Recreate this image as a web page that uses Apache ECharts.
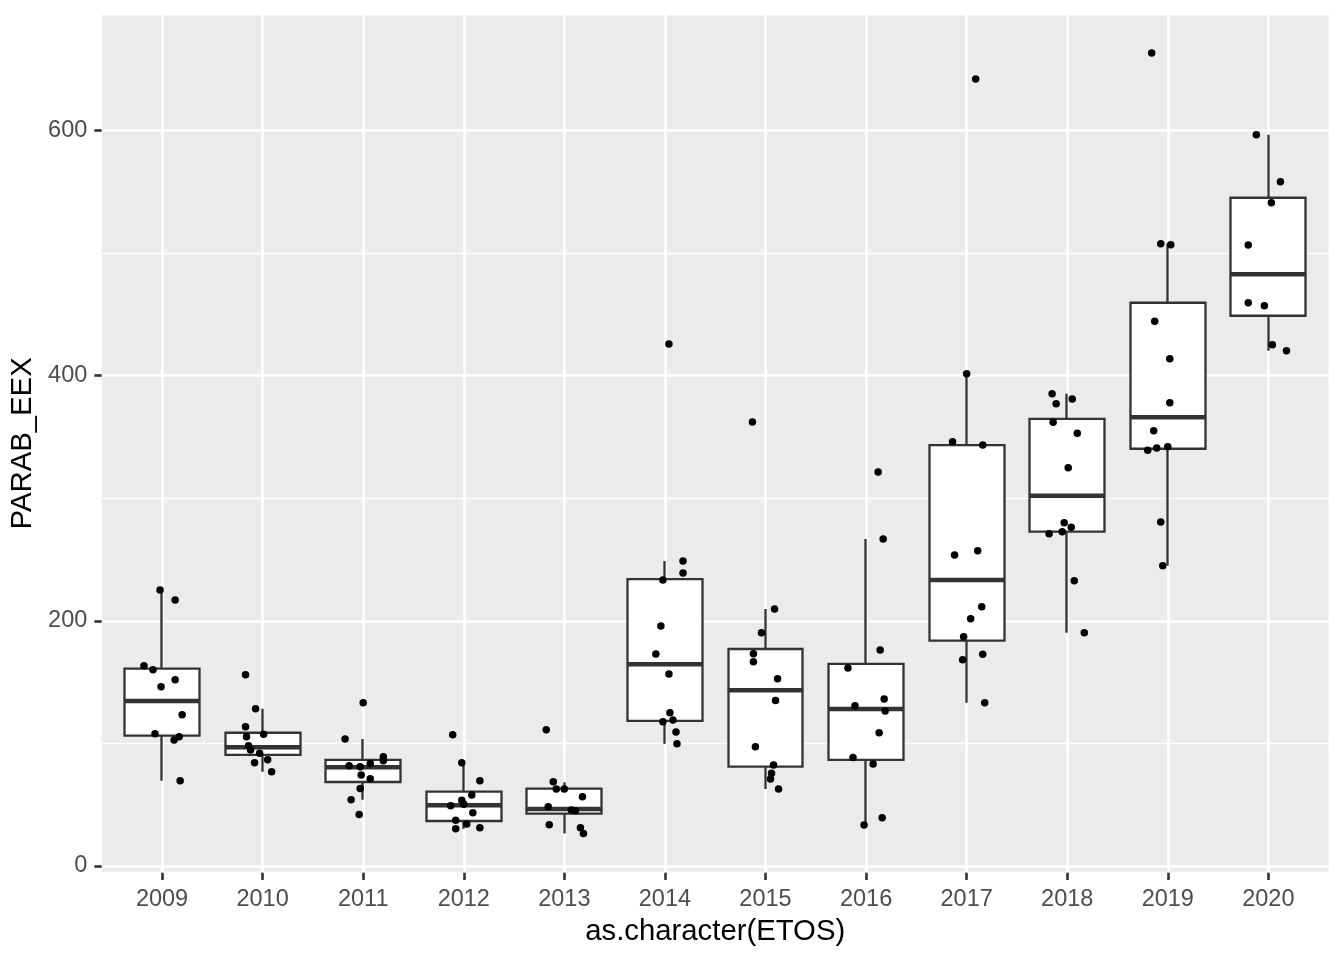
<!DOCTYPE html>
<html>
<head>
<meta charset="utf-8">
<script src="https://cdn.jsdelivr.net/npm/echarts@6/dist/echarts.min.js"></script>
<style>
html,body{margin:0;padding:0;background:#fff;}
#chart{width:1344px;height:960px;}
</style>
</head>
<body>
<div id="chart"></div>
<script>
// ---- data ----
const years = ['2009','2010','2011','2012','2013','2014','2015','2016','2017','2018','2019','2020'];
const yTicks = [0, 200, 400, 600];

// box statistics per year (whisker low, Q1, median, Q3, whisker high)
const whiskerLow  = [69.6, 76.9, 54.1, 30.4, 26.4, 99.8, 62.8, 33.4, 133.2, 190.3, 245.0, 420.4];
const q1          = [106.3, 90.6, 68.5, 36.7, 42.7, 118.3, 81.0, 86.5, 183.8, 272.7, 340.4, 448.9];
const median      = [134.6, 96.8, 80.5, 49.5, 46.5, 164.5, 143.3, 128.1, 233.3, 302.1, 366.0, 482.7];
const q3          = [161.0, 108.7, 86.5, 60.6, 63.1, 234.1, 177.0, 164.8, 343.4, 364.7, 459.5, 545.2];
const whiskerHigh = [225.2, 128.3, 103.6, 84.3, 68.3, 248.8, 209.7, 266.8, 401.6, 385.3, 507.7, 596.6];

// jittered observations per year
const pointValues = [
  [225.2, 217.0, 163.4, 160.1, 152.0, 146.3, 123.4, 107.9, 105.5, 102.8, 69.6],
  [156.1, 128.3, 113.6, 105.5, 107.4, 98.1, 94.6, 91.9, 86.7, 84.3, 76.9],
  [133.2, 103.6, 89.2, 85.9, 83.5, 81.8, 81.0, 74.2, 71.2, 63.1, 54.1, 41.9],
  [107.1, 84.3, 69.6, 57.9, 53.6, 50.3, 49.2, 43.5, 37.3, 34.3, 30.4, 31.2],
  [111.2, 68.8, 62.8, 62.8, 56.5, 48.4, 45.6, 45.1, 33.7, 31.2, 26.4],
  [425.8, 248.8, 239.0, 233.3, 195.8, 172.9, 156.6, 125.1, 119.1, 117.7, 109.3, 99.8],
  [362.2, 209.7, 190.3, 173.2, 166.7, 152.8, 134.9, 97.3, 82.4, 75.6, 71.0, 62.8],
  [321.4, 266.8, 176.2, 161.5, 136.2, 130.8, 126.4, 108.7, 88.4, 83.2, 39.4, 33.4],
  [642.0, 401.6, 346.1, 343.4, 257.2, 253.7, 211.5, 201.7, 187.1, 172.7, 168.3, 133.2],
  [385.3, 381.0, 377.1, 362.0, 353.0, 324.9, 280.1, 276.3, 272.7, 271.1, 232.7, 190.3],
  [663.2, 507.7, 506.9, 444.4, 413.9, 378.0, 355.1, 342.1, 341.0, 339.1, 280.6, 245.0],
  [596.6, 558.2, 541.1, 506.6, 459.5, 457.1, 425.3, 420.4]
];
const pointJitter = [
  [-0.02, 0.13, -0.18, -0.09, 0.13, -0.01, 0.20, -0.07, 0.17, 0.12, 0.18],
  [-0.17, -0.07, -0.17, -0.16, 0.01, -0.14, -0.12, -0.03, 0.05, -0.08, 0.09],
  [0.00, -0.18, 0.20, 0.20, 0.07, -0.14, -0.03, -0.02, 0.07, -0.03, -0.12, -0.04],
  [-0.11, -0.02, 0.16, 0.08, -0.02, 0.00, -0.13, 0.09, -0.08, 0.03, -0.08, 0.16],
  [-0.18, -0.11, -0.08, 0.00, 0.18, -0.16, 0.07, 0.11, -0.15, 0.16, 0.19],
  [0.04, 0.18, 0.18, -0.02, -0.04, -0.09, 0.04, 0.05, 0.08, -0.02, 0.11, 0.12],
  [-0.13, 0.09, -0.04, -0.12, -0.12, 0.12, 0.10, -0.10, 0.08, 0.06, 0.05, 0.13],
  [0.12, 0.17, 0.14, -0.18, 0.18, -0.11, 0.19, 0.13, -0.13, 0.07, 0.16, -0.02],
  [0.09, 0.00, -0.14, 0.16, 0.11, -0.12, 0.15, 0.04, -0.03, 0.16, -0.04, 0.18],
  [-0.15, 0.05, -0.11, -0.14, 0.10, 0.01, -0.03, 0.04, -0.05, -0.18, 0.07, 0.17],
  [-0.16, -0.07, 0.03, -0.13, 0.02, 0.02, -0.14, 0.00, -0.11, -0.20, -0.07, -0.05],
  [-0.12, 0.12, 0.03, -0.20, -0.20, -0.04, 0.04, 0.18]
];

// ---- build series data ----
const yearIndex = years.map((_, i) => i);
const boxData = years.map((_, i) => [i, q1[i], q3[i], whiskerLow[i], whiskerHigh[i]]);
const medianData = years.map((_, i) => [i, median[i]]);
const pts = [];
pointValues.forEach((vals, i) => {
  vals.forEach((v, j) => pts.push([i + pointJitter[i][j], v]));
});

const FONT = '"Liberation Sans", Arial, Helvetica, sans-serif';
const chart = echarts.init(document.getElementById('chart'), null, {renderer: 'canvas'});
chart.setOption({
  animation: false,
  backgroundColor: '#ffffff',
  textStyle: {fontFamily: FONT},
  grid: {
    left: 101.7, right: 15.3, top: 14, bottom: 87.3,
    show: true, backgroundColor: '#EBEBEB', borderWidth: 0,
    containLabel: false
  },
  xAxis: [{
    type: 'value', min: -0.6, max: 11.6, splitNumber: 12, position: 'bottom',
    axisLine: {show: false, onZero: false},
    axisTick: {show: true, length: 7.3, customValues: yearIndex, lineStyle: {color: '#333333', width: 2.6}},
    axisLabel: {
      customValues: yearIndex,
      formatter: v => (years[Math.round(v)] !== undefined ? years[Math.round(v)] : ''),
      color: '#4D4D4D', fontSize: 23.5, margin: 15, fontFamily: FONT
    },
    splitLine: {show: true, lineStyle: {color: '#ffffff', width: 2.6}},
    name: 'as.character(ETOS)', nameLocation: 'middle', nameGap: 45,
    nameTextStyle: {color: '#000000', fontSize: 29.3, fontFamily: FONT}
  }],
  yAxis: [{
    type: 'value', min: -5.5, max: 695.1, splitNumber: 4, position: 'left',
    axisLine: {show: false, onZero: false},
    axisTick: {show: true, length: 7.3, customValues: yTicks, lineStyle: {color: '#333333', width: 2.6}},
    axisLabel: {customValues: yTicks, formatter: v => String(v), color: '#4D4D4D', fontSize: 23.5, margin: 14.4, fontFamily: FONT},
    splitLine: {show: true, lineStyle: {color: '#ffffff', width: 2.6}},
    name: 'PARAB_EEX', nameLocation: 'middle', nameGap: 55,
    nameTextStyle: {color: '#000000', fontSize: 29.3, fontFamily: FONT}
  }, {
    type: 'value', min: -5.5, max: 695.1, splitNumber: 7, position: 'right',
    axisLine: {show: false, onZero: false}, axisTick: {show: false}, axisLabel: {show: false},
    splitLine: {show: true, lineStyle: {color: '#ffffff', width: 1.3}}
  }],
  series: [{
    type: 'candlestick',
    xAxisIndex: 0, yAxisIndex: 0,
    barWidth: 75.4,
    itemStyle: {color: '#ffffff', color0: '#ffffff', borderColor: '#333333', borderColor0: '#333333', borderWidth: 2.3, opacity: 1},
    data: boxData,
    z: 3
  }, {
    type: 'scatter',
    xAxisIndex: 0, yAxisIndex: 0,
    symbol: 'rect', symbolSize: [75.4, 4.5],
    itemStyle: {color: '#333333', opacity: 1},
    data: medianData,
    z: 4, silent: true
  }, {
    type: 'scatter',
    xAxisIndex: 0, yAxisIndex: 0,
    symbol: 'circle', symbolSize: 7.5,
    itemStyle: {color: '#000000', opacity: 1},
    data: pts,
    z: 5, clip: false
  }]
});
</script>
</body>
</html>
